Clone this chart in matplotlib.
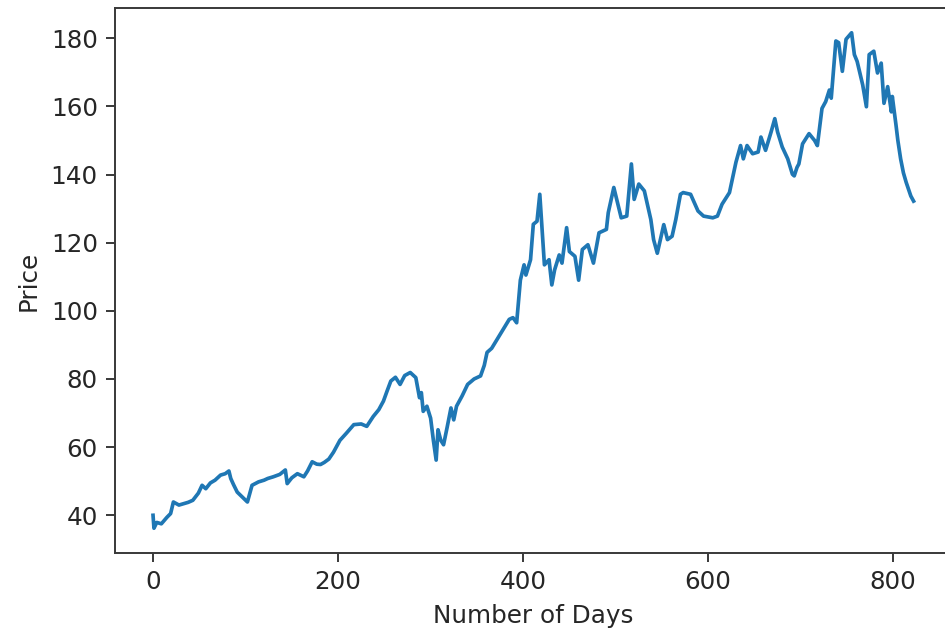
import matplotlib.pyplot as plt

# values (day, price)
days = [0, 1, 4, 9, 15, 19, 22, 28, 33, 38, 43, 49, 53, 57, 62, 67, 73, 78, 82, 84,
        87, 91, 96, 100, 102, 107, 114, 120, 124, 130, 137, 143, 145, 150, 156, 163, 167, 172, 177, 181,
        185, 190, 195, 202, 209, 217, 225, 231, 238, 244, 249, 253, 257, 262, 267, 272, 278, 284, 288, 290,
        292, 296, 300, 303, 306, 308, 311, 314, 318, 322, 325, 328, 334, 340, 347, 354, 358, 361, 366, 370,
        375, 381, 385, 389, 393, 397, 401, 403, 408, 411, 415, 418, 420, 423, 428, 431, 434, 439, 442, 447,
        450, 456, 460, 464, 470, 476, 482, 490, 492, 498, 502, 506, 512, 517, 520, 525, 531, 538, 541, 545,
        552, 556, 561, 565, 570, 573, 581, 589, 595, 605, 610, 615, 623, 630, 635, 638, 642, 648, 654, 657,
        662, 668, 672, 675, 680, 686, 691, 693, 696, 698, 702, 709, 715, 718, 723, 727, 731, 733, 738, 741,
        745, 749, 755, 758, 761, 767, 771, 774, 779, 783, 787, 790, 794, 798, 799, 803, 805, 808, 811, 814,
        817, 819, 822]
price = [40.0, 36.2, 37.9, 37.5, 39.4, 40.5, 43.9, 43.0, 43.4, 43.8, 44.4, 46.5, 48.8, 47.8, 49.5, 50.3, 51.8, 52.2, 53.0, 50.8,
         49.0, 46.8, 45.5, 44.5, 43.9, 48.8, 49.8, 50.3, 50.8, 51.3, 52.0, 53.3, 49.3, 51.0, 52.2, 51.3, 53.0, 55.7, 55.0, 54.9,
         55.5, 56.5, 58.5, 62.0, 64.1, 66.6, 66.8, 66.1, 69.0, 71.0, 73.5, 76.5, 79.4, 80.5, 78.4, 81.0, 81.9, 80.4, 74.5, 76.0,
         70.5, 72.0, 68.5, 62.0, 56.2, 65.1, 62.0, 60.7, 66.0, 71.5, 68.0, 72.0, 75.0, 78.4, 80.0, 80.9, 84.0, 87.8, 89.0, 90.8,
         93.0, 95.7, 97.5, 98.0, 96.5, 109.0, 113.5, 110.5, 115.0, 125.4, 126.3, 134.2, 125.9, 113.5, 115.0, 107.6, 112.0, 116.4, 114.0, 124.4,
         117.4, 116.0, 109.0, 118.0, 119.4, 114.0, 122.9, 123.9, 128.8, 136.2, 131.8, 127.3, 127.8, 143.1, 132.7, 137.2, 135.2, 126.8, 120.9, 116.9,
         125.3, 120.9, 121.9, 126.8, 134.2, 134.7, 134.2, 129.3, 127.8, 127.3, 127.8, 131.3, 134.7, 143.6, 148.5, 144.6, 148.5, 146.1, 146.6, 151.0,
         147.1, 152.5, 156.4, 152.5, 148.1, 144.6, 140.1, 139.6, 142.1, 143.1, 149.0, 152.0, 150.0, 148.5, 159.4, 161.4, 164.8, 162.4, 179.2, 178.7,
         170.3, 179.7, 181.6, 175.2, 173.2, 166.3, 159.9, 175.2, 176.2, 169.8, 172.7, 160.9, 165.8, 158.4, 162.9, 154.5, 150.0, 144.6, 140.5, 137.7,
         135.3, 133.7, 132.2]

dpi = 177
plt.rcParams['text.color'] = '#262626'
plt.rcParams['axes.labelcolor'] = '#262626'
plt.rcParams['xtick.labelcolor'] = '#262626'
plt.rcParams['ytick.labelcolor'] = '#262626'
plt.rcParams['axes.edgecolor'] = '#3a3a3a'
plt.rcParams['xtick.color'] = '#3a3a3a'
plt.rcParams['ytick.color'] = '#3a3a3a'

fig = plt.figure(figsize=(945 / dpi, 636 / dpi), dpi=dpi)
ax = fig.add_axes([0.1217, 0.1305, 0.8853, 0.8569])
ax.plot(days, price)
ax.set_xlabel('Number of Days')
ax.set_ylabel('Price')
# the reference is cut off on the right, so no right frame line shows
ax.spines['right'].set_visible(False)

fig.savefig('out.png', dpi=dpi)
